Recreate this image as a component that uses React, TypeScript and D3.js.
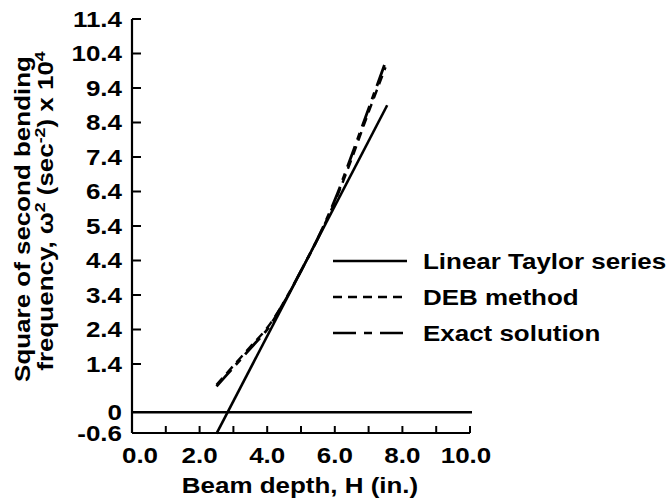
import React from "react";
import * as d3 from "d3";

// ---- data ----
const yTickValues = [-0.6, 0, 1.4, 2.4, 3.4, 4.4, 5.4, 6.4, 7.4, 8.4, 9.4, 10.4, 11.4];
const yTickLabels = ["-0.6", "0", "1.4", "2.4", "3.4", "4.4", "5.4", "6.4", "7.4", "8.4", "9.4", "10.4", "11.4"];
const xTickValues = [0, 2, 4, 6, 8, 10];
const xTickLabels = ["0.0", "2.0", "4.0", "6.0", "8.0", "10.0"];
const xMinorTicks = [1, 2, 3, 4, 5, 6, 7, 8, 9, 10];

const linearH = [2.5, 7.55];
const linearW = [-0.62, 8.9];

const curveH = [2.5, 3.0, 3.5, 4.0, 4.5, 5.0, 5.5, 6.0, 6.5, 7.0, 7.5];
const exactW = [0.75, 1.3, 1.85, 2.4, 3.2, 4.1, 5.05, 6.15, 7.45, 8.8, 10.15];
const debW = [0.8, 1.35, 1.9, 2.45, 3.2, 4.1, 5.05, 6.1, 7.35, 8.7, 10.0];

const legendLabels = ["Linear Taylor series", "DEB method", "Exact solution"];
const legendDash = ["none", "9,6", "23,8,8,8"];
const seriesDash = { linear: "none", deb: "9,6", exact: "22,7,7,7" };

const FONT = "'Liberation Sans', Arial, Helvetica, sans-serif";
const SX = 1.18;

function T({ x, y, rotate = 0, anchor = "start", size = 22, children }: any) {
  return (
    <text
      transform={`translate(${x},${y}) rotate(${rotate}) scale(${SX},1)`}
      textAnchor={anchor}
      fontFamily={FONT}
      fontWeight="bold"
      fontSize={size}
      fill="#000"
    >
      {children}
    </text>
  );
}

export default function App() {
  const x = d3.scaleLinear().domain([0, 10]).range([132, 470]);
  const y = d3.scaleLinear().domain([-0.6, 11.4]).range([433, 19]);

  const line = d3
    .line<[number, number]>()
    .x((d) => x(d[0]))
    .y((d) => y(d[1]));
  const smooth = d3
    .line<[number, number]>()
    .x((d) => x(d[0]))
    .y((d) => y(d[1]))
    .curve(d3.curveCatmullRom);

  const linPts = linearH.map((h, i) => [h, linearW[i]] as [number, number]);
  const exPts = curveH.map((h, i) => [h, exactW[i]] as [number, number]);
  const debPts = curveH.map((h, i) => [h, debW[i]] as [number, number]);

  const x0 = x(0);
  const x1 = x(10);
  const yb = y(-0.6);
  const yt = y(11.4);

  const legendY = [261, 297, 333];

  return (
    <svg
      width={672}
      height={503}
      style={{ position: "absolute", left: 0, top: 0, background: "#fff" }}
    >
      <rect width={672} height={503} fill="#fff" />
      {/* axes */}
      <line x1={x0} y1={yt} x2={x0} y2={yb} stroke="#000" strokeWidth={2.2} />
      <line x1={x0} y1={yb} x2={x1} y2={yb} stroke="#000" strokeWidth={2.2} />
      {yTickValues
        .filter((v) => v > 0)
        .map((v) => (
          <line key={"yt" + v} x1={x0} x2={x0 + 9} y1={y(v)} y2={y(v)} stroke="#000" strokeWidth={2} />
        ))}
      {xMinorTicks.map((v) => (
        <line key={"xt" + v} x1={x(v)} x2={x(v)} y1={yb} y2={yb - 7} stroke="#000" strokeWidth={2} />
      ))}
      {/* zero line */}
      <line x1={x0} x2={x1 + 2} y1={y(0)} y2={y(0)} stroke="#000" strokeWidth={2.5} />

      {/* y tick labels */}
      {yTickValues.map((v, i) => (
        <T key={"yl" + v} x={122} y={y(v) + 7.5} anchor="end">
          {yTickLabels[i]}
        </T>
      ))}
      {/* x tick labels */}
      {xTickValues.map((v, i) => (
        <T
          key={"xl" + v}
          x={x(v) + (i === 0 ? 8 : i === xTickValues.length - 1 ? -4 : 0)}
          y={463}
          anchor="middle"
        >
          {xTickLabels[i]}
        </T>
      ))}

      {/* axis titles */}
      <T x={300} y={493} anchor="middle">
        Beam depth, H (in.)
      </T>
      <T x={30} y={219} rotate={-90} anchor="middle">
        Square of second bending
      </T>
      <T x={53} y={211} rotate={-90} anchor="middle">
        <tspan>frequency, ω</tspan>
        <tspan dy={-8} fontSize={15}>2</tspan>
        <tspan dy={8}> (sec</tspan>
        <tspan dy={-8} fontSize={15}>-2</tspan>
        <tspan dy={8}>) x 10</tspan>
        <tspan dy={-8} fontSize={15}>4</tspan>
      </T>

      {/* series */}
      <path d={line(linPts) || ""} fill="none" stroke="#000" strokeWidth={2.6} />
      <path
        d={smooth(debPts) || ""}
        fill="none"
        stroke="#000"
        strokeWidth={2.4}
        strokeDasharray={seriesDash.deb}
      />
      <path
        d={smooth(exPts) || ""}
        fill="none"
        stroke="#000"
        strokeWidth={2.8}
        strokeDasharray={seriesDash.exact}
      />

      {/* legend */}
      {legendLabels.map((lab, i) => (
        <g key={lab}>
          <line
            x1={333}
            x2={407}
            y1={legendY[i]}
            y2={legendY[i]}
            stroke="#000"
            strokeWidth={2.5}
            strokeDasharray={legendDash[i]}
          />
          <T x={423} y={legendY[i] + 8}>
            {lab}
          </T>
        </g>
      ))}
    </svg>
  );
}
